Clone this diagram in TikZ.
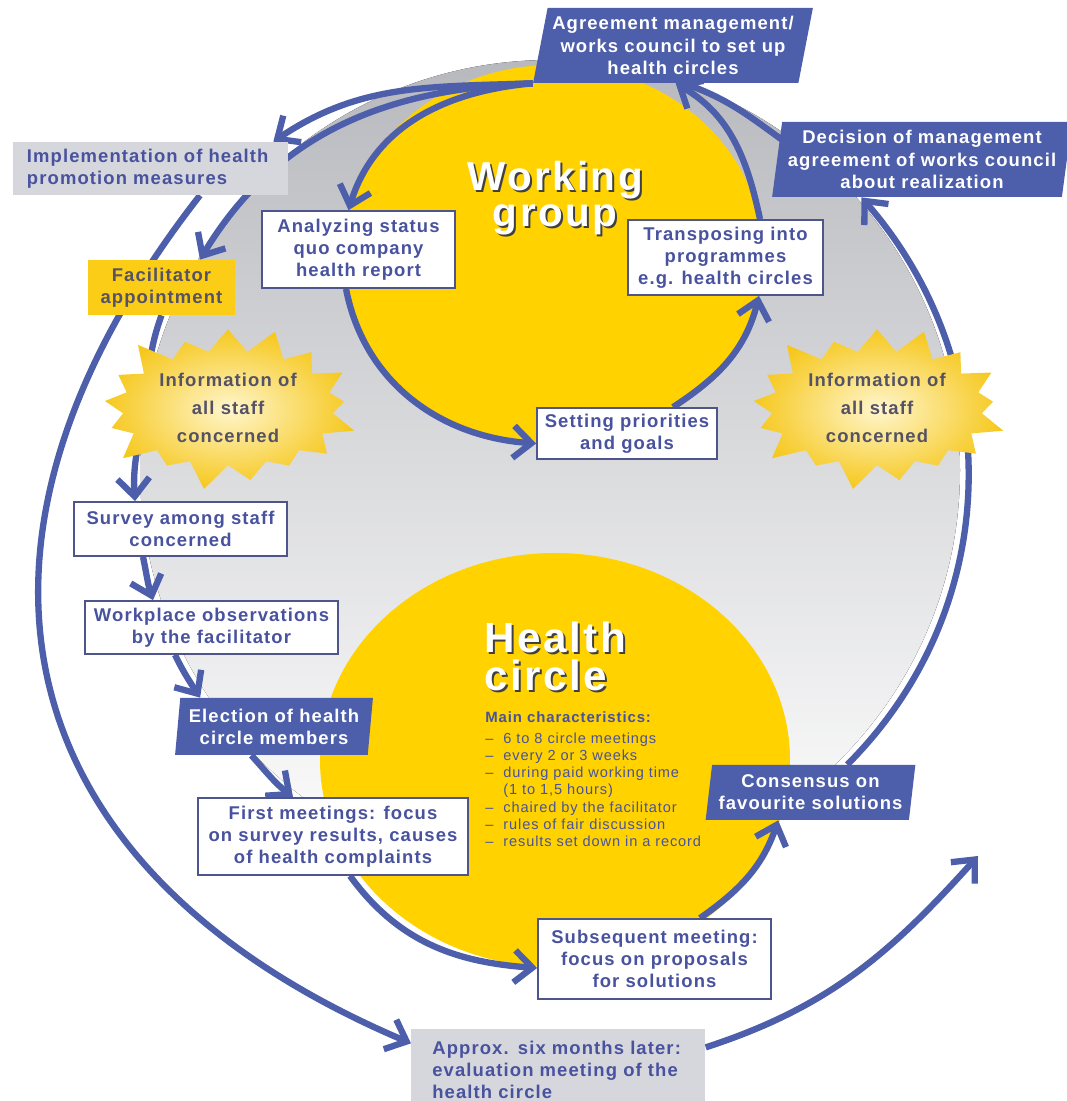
\documentclass[tikz,border=0pt]{standalone}
\usepackage{fontspec}
\setmainfont{Liberation Sans}[LetterSpace=6]
\usetikzlibrary{arrows.meta,shapes.geometric,shapes.symbols}
\definecolor{hcblue}{RGB}{77,94,170}
\definecolor{hctext}{RGB}{72,82,158}
\definecolor{hcframe}{RGB}{78,84,140}
\definecolor{hcyellow}{RGB}{255,210,0}
\definecolor{hcfacil}{RGB}{252,205,22}
\definecolor{hcgray}{RGB}{214,215,220}
\definecolor{hcshade}{RGB}{184,185,190}
\definecolor{hcmid}{RGB}{212,213,216}
\definecolor{hcstar}{RGB}{246,200,30}
\definecolor{hcstarin}{RGB}{255,246,205}
\definecolor{hcdark}{RGB}{84,82,100}
\newcommand\boxtxt{\fontsize{10.5}{12.6}\selectfont\bfseries}
\newcommand\titletxt{\fontsize{23}{20.5}\selectfont\bfseries}
\pgfdeclarelayer{back}
\pgfdeclarelayer{flows}
\pgfsetlayers{back,flows,main}
\tikzset{
  flowline/.style={draw=hcblue, line width=3.6pt},
  flow/.style={flowline, -{Straight Barb[length=3.6mm,width=6.4mm]}},
  whitebox/.style={draw=hcframe, line width=1pt, fill=white, text=hctext, font=\boxtxt, align=center, inner sep=1pt},
  bluebox/.style={trapezium, trapezium stretches=true, trapezium left angle=#1, trapezium right angle={180-#1},
    fill=hcblue, text=white, font=\boxtxt, align=center, inner sep=1pt},
  graybox/.style={fill=hcgray, text=hctext, font=\boxtxt, align=left},
  yellowbox/.style={fill=hcfacil, text=hcdark, font=\boxtxt, align=center, inner sep=1pt},
  burst/.style={starburst, starburst points=17, starburst point height=6mm, minimum width=45mm, minimum height=32mm,
    inner color=hcstarin, outer color=hcstar, text=hcdark, align=center,
    font=\fontsize{10.5}{15.8}\selectfont\bfseries},
  titletext/.style={text=white, font=\titletxt, align=center, inner sep=0pt},
  titleshadow/.style={titletext, text=black!75},
  chartxt/.style={text=hctext, font=\fontsize{8.3}{9.8}\selectfont, align=left, inner sep=0pt}
}
\begin{document}
\begin{tikzpicture}[x=0.2mm, y=0.2mm]
\useasboundingbox (0,0) rectangle (1066,1101);
\begin{pgfonlayer}{back}
  \fill[top color=hcshade, middle color=hcmid, bottom color=white] (550,631) circle[radius=410];
  \fill[hcyellow] (553,846) ellipse[x radius=210, y radius=190];
  \fill[hcyellow] (555,341) ellipse[x radius=235, y radius=207];
\end{pgfonlayer}

\node[titleshadow] at (557,901) {Working\\group};
\node[titletext] (wgtitle) at (555,903) {Working\\group};
\node[titleshadow, anchor=north west, align=left, font=\fontsize{24}{21.5}\selectfont\bfseries] at (486,477) {Health\\circle};
\node[titletext, anchor=north west, align=left, font=\fontsize{24}{21.5}\selectfont\bfseries] (hctitle) at (484,479) {Health\\circle};
\node[chartxt, anchor=north west] (mainch) at (485,390) {%
  {\bfseries\fontsize{8.5}{10}\selectfont Main characteristics:}\\[4pt]
  \begin{tabular}{@{}l@{\hspace{2mm}}l@{}}
  –&6 to 8 circle meetings\\
  –&every 2 or 3 weeks\\
  –&during paid working time\\
   &(1 to 1,5 hours)\\
  –&chaired by the facilitator\\
  –&rules of fair discussion\\
  –&results set down in a record
  \end{tabular}};

\node[bluebox=77, minimum width=56mm, minimum height=15mm] (agree) at (673,1055.5)
  {Agreement management/\\works council to set up\\health circles};
\node[bluebox=81, minimum width=60mm, minimum height=15mm] (decision) at (922,941.5)
  {Decision of management\\agreement of works council\\about realization};
\node[bluebox=81, minimum width=42mm, minimum height=11mm] (consensus) at (810.5,308.5)
  {Consensus on\\favourite solutions};
\node[bluebox=83, minimum width=39.6mm, minimum height=11.4mm] (elect) at (274,374.5)
  {Election of health\\circle members};
\node[graybox, text width=49.4mm, inner xsep=2.8mm, minimum height=10.6mm] (impl) at (150.5,932.5)
  {Implementation of health\\promotion measures};
\node[graybox, anchor=north west, text width=50.4mm, inner xsep=4.2mm, inner ysep=1.2mm, minimum height=16.2mm] (approx) at (411,72)
  {Approx. six months later:\\evaluation meeting of the\\health circle};
\node[yellowbox, minimum width=29.4mm, minimum height=11mm] (facil) at (161.5,813.5) {Facilitator\\appointment};
\node[whitebox, minimum width=38.6mm, minimum height=15.4mm] (analyz) at (358.5,851.5) {Analyzing status\\quo company\\health report};
\node[whitebox, minimum width=39mm, minimum height=15mm] (transp) at (725.5,843.5) {Transposing into\\programmes\\e.g. health circles};
\node[whitebox, minimum width=36mm, minimum height=10.2mm] (setting) at (627,667.5) {Setting priorities\\and goals};
\node[burst] (infoL) at (228,693) {Information of\\all staff\\concerned};
\node[burst] (infoR) at (877,693) {Information of\\all staff\\concerned};
\node[whitebox, minimum width=42.6mm, minimum height=10.8mm] (survey) at (180.5,572) {Survey among staff\\concerned};
\node[whitebox, minimum width=50.6mm, minimum height=10.6mm] (workpl) at (211.5,473.5) {Workplace observations\\by the facilitator};
\node[whitebox, minimum width=54mm, minimum height=15.4mm] (firstm) at (333,264.5) {First meetings: focus\\on survey results, causes\\of health complaints};
\node[whitebox, minimum width=46.6mm, minimum height=16mm] (subseq) at (654.5,142) {Subsequent meeting:\\focus on proposals\\for solutions};
\coordinate (loopend) at (978,245);

\begin{pgfonlayer}{flows}
  \draw[flow] (agree.bottom left corner) to[out=182,in=34] ([xshift=-3mm]impl.north east);
  \draw[flow] (agree.bottom left corner) to[out=182,in=59] ([xshift=7.7mm]facil.north);
  \draw[flow] (agree.bottom left corner) to[out=185,in=73] ([xshift=-2mm]analyz.north);
  \draw[flowline] (facil.south) to[out=250,in=82] ([xshift=-16.8mm]infoL.center);
  \draw[flow] ([xshift=-16.8mm]infoL.center) to[out=262,in=94] ([xshift=-9.1mm]survey.north);
  \draw[flow] ([xshift=-7.5mm]survey.south) to[out=282,in=108] ([xshift=-11.7mm]workpl.north);
  \draw[flow] ([xshift=-7.3mm]workpl.south) to[out=296,in=123] ([xshift=-15.3mm]elect.top side);
  \draw[flow] ([xshift=-4mm]elect.bottom side) to[out=312,in=142] ([xshift=-8mm]firstm.north);
  \draw[flow] ([xshift=-2.5mm]analyz.south) to[out=281,in=176] ([yshift=-2mm]setting.west);
  \draw[flow] ([xshift=9.2mm]setting.north) to[out=33,in=256] ([xshift=6.7mm]transp.south);
  \draw[flow] ([xshift=6.9mm]transp.north) to[out=102,in=-30] ([xshift=2mm]agree.bottom side);
  \draw[flowline] ([yshift=-3.6mm]decision.top left corner) to[out=144,in=-19] ([xshift=3.6mm]agree.bottom side);
  \draw[flow] ([xshift=6.7mm]consensus.top side) to[out=45,in=-49] ([xshift=-11.1mm]decision.bottom side);
  \draw[flow] ([xshift=3.4mm]firstm.south) to[out=306,in=176] ([yshift=-1.8mm]subseq.west);
  \draw[flow] ([xshift=9.1mm]subseq.north) to[out=35,in=251] ([xshift=-5.8mm]consensus.bottom side);
  \draw[flow] ([xshift=9.9mm]impl.south) to[out=232,in=157,looseness=1.3] ([yshift=5.3mm]approx.west);
  \draw[flow] ([yshift=4.5mm]approx.east) to[out=18,in=228] (loopend);
\end{pgfonlayer}
\end{tikzpicture}
\end{document}
